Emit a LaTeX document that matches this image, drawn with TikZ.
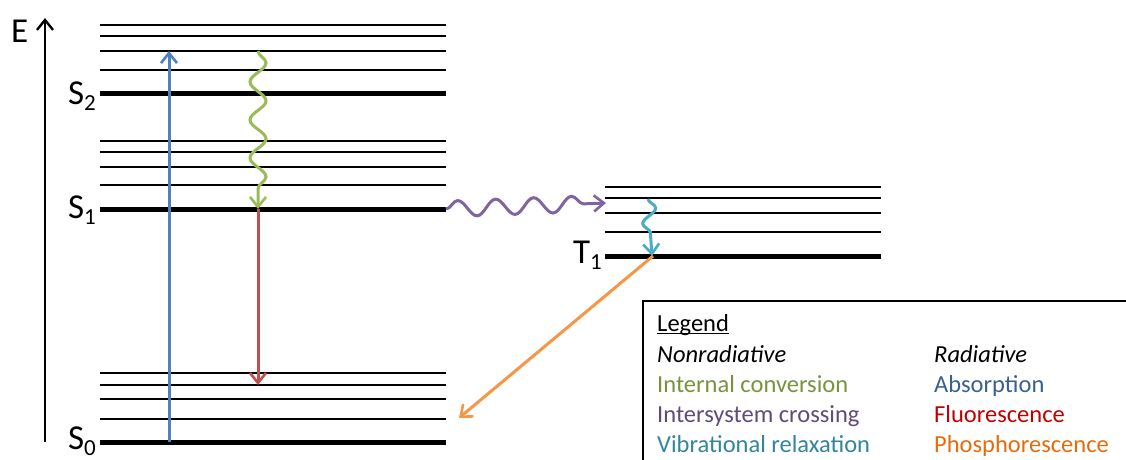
\documentclass[tikz,border=0pt]{standalone}
\usepackage{fontspec}
\setmainfont{Carlito}
\usetikzlibrary{arrows.meta,decorations.pathmorphing}
\definecolor{cAbs}{HTML}{4F81BD}
\definecolor{cFlu}{HTML}{C0504D}
\definecolor{cIC}{HTML}{9BBB59}
\definecolor{cISC}{HTML}{8064A2}
\definecolor{cVR}{HTML}{4BACC6}
\definecolor{cPho}{HTML}{F79646}
\definecolor{tIC}{HTML}{77933C}
\definecolor{tISC}{HTML}{604A7B}
\definecolor{tVR}{HTML}{31859C}
\definecolor{tAbs}{HTML}{376092}
\definecolor{tFlu}{HTML}{C00000}
\definecolor{tPho}{HTML}{E46C0A}
\newcommand\lvsub[1]{\raisebox{-6pt}{\fontsize{23}{23}\selectfont #1}}
\tikzset{
  lvthin/.style={line width=2pt, black},
  lvthick/.style={line width=5pt, black},
  lbl/.style={inner sep=0pt, anchor=base west, font=\fontsize{35}{40}\selectfont},
  lgd/.style={inner sep=0pt, anchor=base west, font=\fontsize{24.5}{30}\selectfont},
  tip/.style={-{Straight Barb[length=10pt,width=16pt,line width=2.6pt]}},
  trans/.style={tip, line width=3pt},
  wavy/.style={decorate, decoration={snake, amplitude=#1, segment length=38pt, post length=10pt}},
}
\begin{document}
\begin{tikzpicture}[x=1pt,y=-1pt]
\clip (0,0) rectangle (1126,459);
\useasboundingbox (0,0) rectangle (1126,459);
% energy axis
\coordinate (axBot) at (45,442);
\coordinate (axTop) at (45,18);
\draw[line width=2.4pt, -{Straight Barb[length=10pt,width=16pt,line width=2.4pt]}] (axBot) -- (axTop);
\node[lbl] (E) at (11,42) {E};
% S2 manifold
\foreach \y in {25,36,51,70} \draw[lvthin] (100,\y) -- (446,\y);
\draw[lvthick] (100,93) -- (446,93);
% S1 manifold
\foreach \y in {141,152,167,185} \draw[lvthin] (100,\y) -- (446,\y);
\draw[lvthick] (100,209) -- (446,209);
% S0 manifold
\foreach \y in {373,385,399,419} \draw[lvthin] (100,\y) -- (446,\y);
\draw[lvthick] (100,442) -- (446,442);
% T1 manifold
\foreach \y in {187,198,213,232} \draw[lvthin] (605,\y) -- (881,\y);
\draw[lvthick] (605,256) -- (881,256);
% level labels
\node[lbl, anchor=base east] (S2) at (96,104) {S\lvsub{2}};
\node[lbl, anchor=base east] (S1) at (96,218) {S\lvsub{1}};
\node[lbl, anchor=base east] (S0) at (96,449) {S\lvsub{0}};
\node[lbl, anchor=base east] (T1) at (602,263) {T\lvsub{1}};
% transition end points
\coordinate (absA) at (169,442);
\coordinate (absB) at (169,51);
\coordinate (icA) at (258,51);
\coordinate (icB) at (258,209);
\coordinate (fluA) at (258,209);
\coordinate (fluB) at (258,385);
\coordinate (iscA) at (446,209);
\coordinate (iscB) at (606,203);
\coordinate (vrA) at (648,199);
\coordinate (vrB) at (652,256);
\coordinate (phA) at (653,256);
\coordinate (phB) at (459,418);
% transitions
\draw[trans, cAbs] (absA) -- (absB);
\draw[trans, cIC, wavy=8pt] (icA) -- (icB);
\draw[trans, cFlu] (fluA) -- (fluB);
\draw[trans, cISC, decorate, decoration={snake, amplitude=8pt, segment length=38pt, post length=10pt}] (iscA) -- (iscB);
\draw[trans, cVR, decorate, decoration={snake, amplitude=7pt, segment length=30pt, post length=9pt}] (vrA) -- (vrB);
\draw[trans, cPho] (phA) -- (phB);
% legend
\coordinate (lgBL) at (643,470);
\coordinate (lgTL) at (643,301);
\coordinate (lgTR) at (1140,301);
\draw[line width=1.6pt] (lgBL) -- (lgTL) -- (lgTR);
\node[lgd] (leg) at (657,331) {Legend};
\draw[line width=1.3pt] ([yshift=-2.5pt]leg.base west) -- ([yshift=-2.5pt]leg.base east);
\node[lgd] (nonrad) at (657,362) {\itshape Nonradiative};
\node[lgd, text=tIC] (lIC) at (657,392) {Internal conversion};
\node[lgd, text=tISC] (lISC) at (657,422) {Intersystem crossing};
\node[lgd, text=tVR] (lVR) at (657,452) {Vibrational relaxation};
\node[lgd] (rad) at (934,362) {\itshape Radiative};
\node[lgd, text=tAbs] (lAbs) at (934,392) {Absorption};
\node[lgd, text=tFlu] (lFlu) at (934,422) {Fluorescence};
\node[lgd, text=tPho] (lPho) at (934,452) {Phosphorescence};
\end{tikzpicture}
\end{document}
